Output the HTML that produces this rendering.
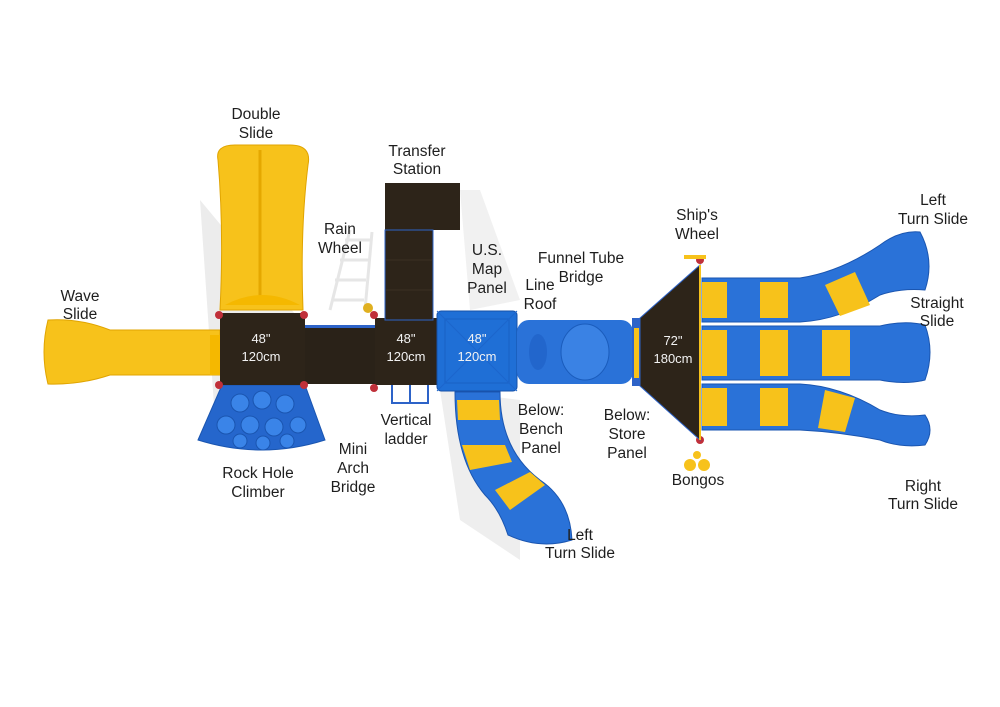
<!DOCTYPE html>
<html><head><meta charset="utf-8"><style>
html,body{margin:0;padding:0;background:#fff;}
svg{display:block;font-family:"Liberation Sans","DejaVu Sans",sans-serif;}
.l{font-size:15.5px;fill:#1e1e1e;text-anchor:middle;}
.w{font-size:13px;fill:#f2f2f2;text-anchor:middle;}
</style></head><body>
<svg width="1000" height="707" viewBox="0 0 1000 707" xmlns="http://www.w3.org/2000/svg">
<rect width="1000" height="707" fill="#fff"/>
<!-- shadows -->
<path d="M200 200 L215 420 L280 440 L300 320 Z" fill="#ececec"/>
<path d="M440 390 L460 520 L520 560 L520 400 Z" fill="#eeeeee"/>
<path d="M460 190 L470 310 L520 300 L480 190 Z" fill="#f1f1f1"/>
<!-- double slide -->
<path d="M218 160 Q215 145 235 145 L290 145 Q312 145 308 165 Q300 230 303 310 L220 310 Q224 230 218 160 Z" fill="#f7c21b" stroke="#e0a400"/>
<line x1="260" y1="150" x2="260" y2="300" stroke="#e5a800" stroke-width="3"/>
<path d="M225 305 Q262 285 300 305 Z" fill="#f5b800"/>
<!-- wave slide -->
<path d="M48 320 Q80 318 110 330 L220 330 L220 375 L110 375 Q80 385 48 384 Q40 352 48 320 Z" fill="#f7c21b" stroke="#e0a400"/>
<rect x="210" y="335" width="12" height="40" fill="#f5b800"/>
<!-- rock climber -->
<path d="M222 385 L305 385 L325 440 Q262 460 198 440 Z" fill="#2566cc" stroke="#1a55b0"/>
<g fill="#3a84e8" stroke="#1a55b0"><circle cx="240" cy="403" r="9"/><circle cx="262" cy="400" r="9"/><circle cx="285" cy="404" r="9"/><circle cx="226" cy="425" r="9"/><circle cx="250" cy="425" r="9"/><circle cx="274" cy="427" r="9"/><circle cx="298" cy="425" r="8"/><circle cx="240" cy="441" r="7"/><circle cx="263" cy="443" r="7"/><circle cx="287" cy="441" r="7"/></g>
<!-- decks -->
<rect x="220" y="313" width="85" height="72" fill="#2d2419"/>
<rect x="305" y="328" width="72" height="56" fill="#2a2218"/>
<rect x="305" y="325" width="72" height="3" fill="#2d63c8"/>
<rect x="375" y="318" width="62" height="67" fill="#2d2419"/>
<rect x="385" y="183" width="75" height="47" fill="#2d2419"/>
<rect x="385" y="230" width="48" height="90" fill="#2d2419" stroke="#2d63c8"/>
<line x1="386" y1="260" x2="432" y2="260" stroke="#3a3024"/><line x1="386" y1="290" x2="432" y2="290" stroke="#3a3024"/>
<!-- ladders -->
<path d="M345 240 L370 240 M340 260 L368 260 M335 280 L366 280 M332 300 L364 300 M350 230 L330 310 M372 232 L365 310" stroke="#e6e6e6" stroke-width="3" fill="none"/>
<path d="M392 385 L392 403 L428 403 L428 385 M410 385 L410 403" stroke="#2d63c8" stroke-width="2" fill="none"/>
<circle cx="368" cy="308" r="5" fill="#e0b020"/>
<!-- posts -->
<g fill="#c0303a"><circle cx="219" cy="315" r="4"/><circle cx="304" cy="315" r="4"/><circle cx="219" cy="385" r="4"/><circle cx="304" cy="385" r="4"/><circle cx="374" cy="315" r="4"/><circle cx="374" cy="388" r="4"/><circle cx="652" cy="318" r="4"/><circle cx="652" cy="386" r="4"/><circle cx="700" cy="260" r="4"/><circle cx="700" cy="440" r="4"/></g>
<!-- left turn slide (bottom) -->
<path d="M455 392 L500 392 Q500 450 540 480 Q570 500 572 540 Q540 550 508 535 Q500 510 485 495 Q455 460 455 392 Z" fill="#2a72d8" stroke="#1a55b0"/>
<path d="M457 400 L499 400 L500 420 L458 420 Z M462 445 L505 445 L512 462 L470 470 Z M495 490 L530 472 L545 485 L510 510 Z" fill="#f7c21b"/>
<!-- blue deck -->
<rect x="437" y="311" width="80" height="80" rx="4" fill="#1f6fd6" stroke="#1650a8"/>
<rect x="445" y="319" width="64" height="64" fill="none" stroke="#1a60c4"/>
<path d="M437 311 L517 391 M517 311 L437 391" stroke="#1c66cc" stroke-width="1"/>
<!-- tube -->
<rect x="517" y="320" width="116" height="64" rx="12" fill="#2a72d8"/>
<ellipse cx="585" cy="352" rx="24" ry="28" fill="#3a82e4" stroke="#1a5cbc"/>
<ellipse cx="538" cy="352" rx="9" ry="18" fill="#2266cc"/>
<rect x="632" y="318" width="14" height="68" fill="#2d63c8"/>
<rect x="634" y="328" width="5" height="50" fill="#f7c21b"/>
<!-- 72 deck -->
<path d="M640 318 L700 265 L700 440 L640 386 Z" fill="#2d2419" stroke="#2d63c8"/>
<line x1="700" y1="265" x2="700" y2="440" stroke="#f7c21b" stroke-width="2"/>
<!-- ship wheel / bongos -->
<rect x="684" y="255" width="22" height="4" fill="#f7c21b"/>
<circle cx="690" cy="465" r="6" fill="#f7c21b"/><circle cx="704" cy="465" r="6" fill="#f7c21b"/><circle cx="697" cy="455" r="4" fill="#f7c21b"/>
<!-- right slides -->
<g stroke="#1a55b0">
<path d="M702 278 L800 278 Q840 272 880 245 Q900 230 920 232 Q935 260 925 290 Q900 288 880 295 Q840 320 800 322 L702 322 Z" fill="#2a72d8"/>
<path d="M702 326 L880 326 Q905 320 925 325 Q935 352 925 380 Q905 385 880 380 L702 380 Z" fill="#2a72d8"/>
<path d="M702 384 L800 384 Q840 386 880 410 Q900 418 925 415 Q935 430 925 445 Q900 448 880 440 Q840 432 800 430 L702 430 Z" fill="#2a72d8"/>
</g>
<g fill="#f7c21b">
<rect x="702" y="282" width="25" height="36"/><rect x="760" y="282" width="28" height="36"/><path d="M825 285 L855 272 L870 305 L840 316 Z"/>
<rect x="702" y="330" width="25" height="46"/><rect x="760" y="330" width="28" height="46"/><rect x="822" y="330" width="28" height="46"/>
<rect x="702" y="388" width="25" height="38"/><rect x="760" y="388" width="28" height="38"/><path d="M825 390 L855 398 L845 432 L818 428 Z"/>
</g>
<!-- deck labels -->
<text class="w" x="261" y="343">48"</text><text class="w" x="261" y="361">120cm</text>
<text class="w" x="406" y="343">48"</text><text class="w" x="406" y="361">120cm</text>
<text class="w" x="477" y="343">48"</text><text class="w" x="477" y="361">120cm</text>
<text class="w" x="673" y="345">72"</text><text class="w" x="673" y="363">180cm</text>
<!-- labels -->
<text class="l" x="256" y="119">Double</text><text class="l" x="256" y="138">Slide</text>
<text class="l" x="80" y="301">Wave</text><text class="l" x="80" y="319">Slide</text>
<text class="l" x="417" y="156">Transfer</text><text class="l" x="417" y="174">Station</text>
<text class="l" x="340" y="234">Rain</text><text class="l" x="340" y="253">Wheel</text>
<text class="l" x="487" y="255">U.S.</text><text class="l" x="487" y="274">Map</text><text class="l" x="487" y="293">Panel</text>
<text class="l" x="540" y="290">Line</text><text class="l" x="540" y="309">Roof</text>
<text class="l" x="581" y="263">Funnel Tube</text><text class="l" x="581" y="282">Bridge</text>
<text class="l" x="697" y="220">Ship's</text><text class="l" x="697" y="239">Wheel</text>
<text class="l" x="933" y="205">Left</text><text class="l" x="933" y="224">Turn Slide</text>
<text class="l" x="937" y="308">Straight</text><text class="l" x="937" y="326">Slide</text>
<text class="l" x="923" y="491">Right</text><text class="l" x="923" y="509">Turn Slide</text>
<text class="l" x="698" y="485">Bongos</text>
<text class="l" x="627" y="420">Below:</text><text class="l" x="627" y="439">Store</text><text class="l" x="627" y="458">Panel</text>
<text class="l" x="541" y="415">Below:</text><text class="l" x="541" y="434">Bench</text><text class="l" x="541" y="453">Panel</text>
<text class="l" x="580" y="540">Left</text><text class="l" x="580" y="558">Turn Slide</text>
<text class="l" x="406" y="425">Vertical</text><text class="l" x="406" y="444">ladder</text>
<text class="l" x="353" y="454">Mini</text><text class="l" x="353" y="473">Arch</text><text class="l" x="353" y="492">Bridge</text>
<text class="l" x="258" y="478">Rock Hole</text><text class="l" x="258" y="497">Climber</text>
</svg>
</body></html>
